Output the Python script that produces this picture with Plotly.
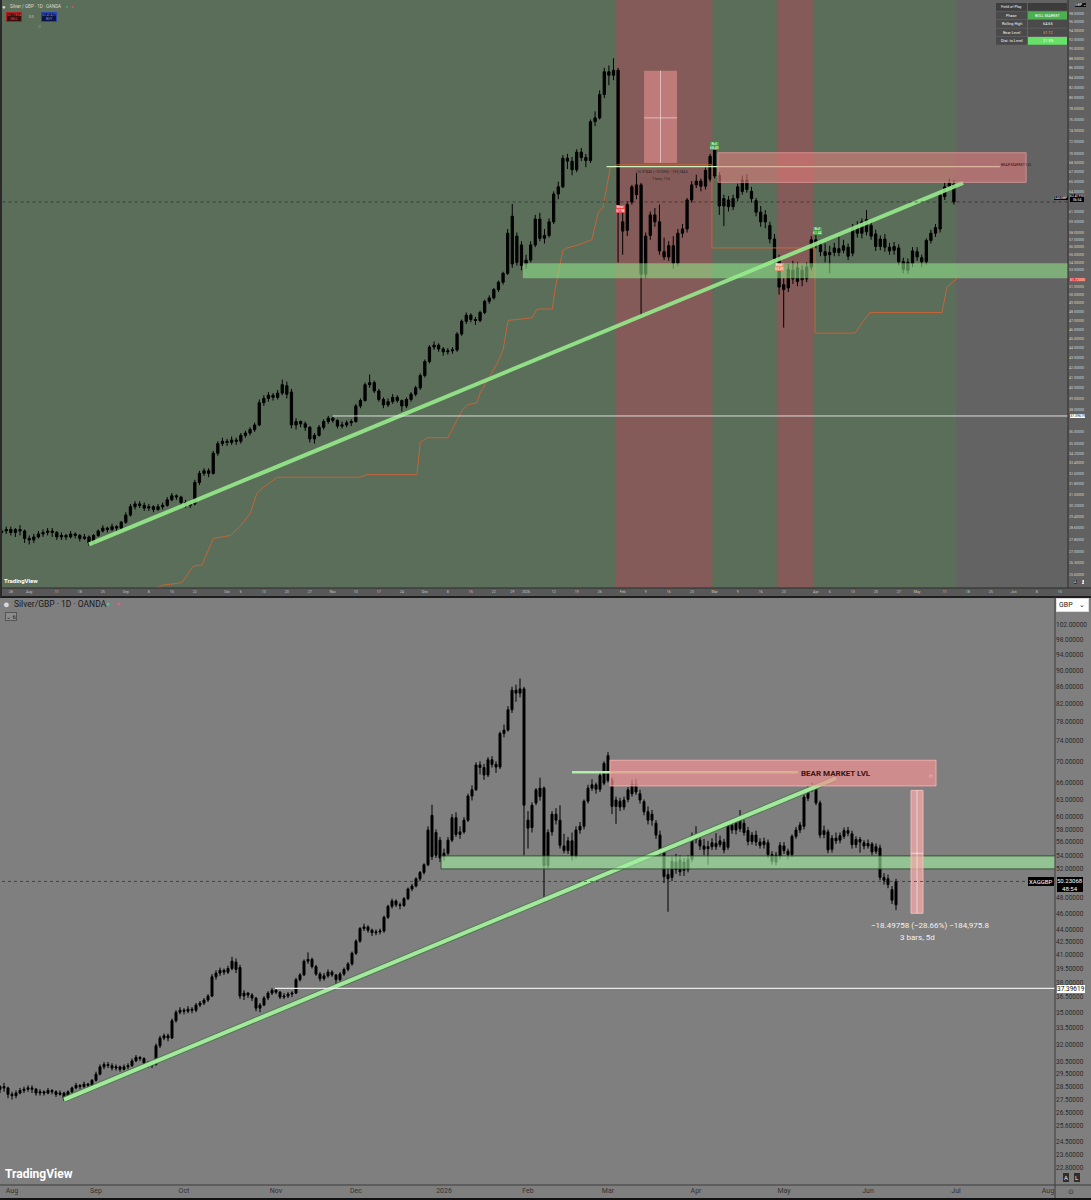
import math
import pandas as pd
import plotly.graph_objects as go

W, H = 1091, 1200

# trading calendar (OANDA daily bars, no bars on Dec 25 / Jan 1)
holidays = ["2025-12-25", "2026-01-01"]
calendar = pd.bdate_range("2025-07-24", periods=300, freq="C", holidays=holidays)

### Silver/GBP daily candles ###
opens = [28.3, 28.4, 28.5, 28.3, 28.5, 28.4, 27.9, 27.8, 28.0, 28.2, 28.3, 28.4, 28.3, 28.0, 28.1, 28.0, 28.2, 28.1, 27.9, 28.0,
         27.6, 28.1, 28.4, 28.6, 28.5, 28.7, 28.6, 29.0, 29.5, 30.1, 30.3, 30.2, 30.0, 30.1, 29.9, 30.1, 30.2, 30.6, 30.9, 30.8,
         30.4, 30.2, 30.3, 31.9, 32.6, 32.8, 32.6, 34.2, 35.0, 35.2, 35.1, 35.3, 35.2, 35.7, 35.9, 36.2, 36.6, 38.6, 39.0, 39.3,
         39.1, 39.5, 40.2, 39.6, 36.6, 36.9, 36.7, 36.4, 35.4, 35.7, 36.4, 36.9, 37.2, 37.0, 36.5, 36.6, 36.8, 36.9, 38.3, 38.8,
         40.3, 40.5, 39.7, 38.9, 38.4, 38.7, 39.1, 38.8, 38.3, 38.9, 39.4, 40.0, 41.2, 42.6, 44.1, 44.3, 43.9, 43.6, 43.7, 43.8,
         45.5, 46.9, 47.6, 47.1, 47.0, 47.9, 49.2, 49.6, 50.6, 51.5, 52.6, 60.3, 54.0, 56.3, 53.8, 54.3, 56.3, 59.9, 57.2, 57.6,
         59.5, 63.6, 64.7, 69.3, 68.8, 67.4, 70.3, 69.4, 68.9, 75.6, 76.3, 80.7, 85.2, 84.5, 85.5, 58.2, 58.3, 62.4, 63.5, 65.0,
         52.5, 57.6, 60.5, 59.5, 55.4, 54.7, 56.2, 53.9, 57.9, 58.5, 62.7, 65.0, 65.6, 64.8, 65.9, 66.4, 66.5, 61.8, 62.7, 61.7,
         63.0, 64.0, 65.7, 64.0, 62.6, 60.9, 59.5, 59.0, 57.1, 54.5, 51.2, 50.8, 53.0, 51.6, 53.0, 51.9, 53.4, 57.0, 56.3, 55.4,
         55.0, 55.3, 55.8, 55.6, 56.0, 55.2, 58.7, 57.9, 58.1, 59.0, 57.8, 56.1, 57.1, 56.0, 55.6, 55.9, 54.1, 53.0, 53.9, 55.4,
         54.6, 54.1, 56.9, 57.9, 58.5, 63.2, 64.8, 65.1, 62.4, 57.2, 57.6, 54.9, 56.6, 56.3, 56.9, 57.8, 57.3, 55.6, 56.4, 55.9,
         55.4, 55.7, 54.6, 55.1, 50.8, 50.6, 49.1, 47.1]
highs = [28.6, 28.7, 28.7, 28.6, 28.8, 28.5, 28.1, 28.2, 28.4, 28.5, 28.6, 28.6, 28.4, 28.3, 28.2, 28.4, 28.3, 28.2, 28.2, 28.1,
         28.2, 28.5, 28.8, 28.7, 28.9, 28.8, 29.1, 29.7, 30.3, 30.5, 30.5, 30.4, 30.3, 30.2, 30.3, 30.4, 30.8, 31.1, 31.0, 30.9,
         30.6, 30.5, 32.1, 32.8, 33.0, 33.0, 34.4, 35.2, 35.5, 35.4, 35.6, 35.5, 35.9, 36.1, 36.4, 36.8, 38.9, 39.3, 39.6, 39.5,
         39.8, 40.8, 40.6, 39.9, 37.2, 37.0, 36.9, 36.5, 35.9, 36.6, 37.1, 37.4, 37.3, 37.1, 36.9, 37.0, 37.1, 38.5, 39.0, 40.5,
         41.3, 40.7, 39.9, 39.1, 39.0, 39.4, 39.3, 38.9, 39.1, 39.6, 40.2, 41.4, 42.8, 44.3, 44.7, 44.5, 44.1, 44.0, 44.1, 45.7,
         47.1, 47.9, 47.8, 47.4, 48.1, 49.4, 49.9, 50.8, 51.7, 52.8, 58.5, 62.1, 58.0, 56.8, 55.0, 56.8, 60.5, 60.8, 58.5, 60.0,
         64.0, 65.5, 69.8, 70.0, 69.5, 70.8, 71.0, 70.0, 76.0, 77.5, 81.5, 86.0, 86.5, 88.0, 86.0, 61.0, 62.5, 65.0, 66.9, 65.3,
         58.0, 61.0, 61.5, 62.0, 57.3, 56.8, 57.5, 58.5, 59.2, 63.0, 65.6, 66.6, 66.0, 67.8, 70.0, 71.8, 67.0, 63.5, 63.3, 63.5,
         65.2, 66.5, 66.7, 64.7, 63.0, 61.8, 61.2, 59.5, 57.8, 55.0, 52.0, 53.8, 54.2, 54.0, 53.6, 54.0, 57.5, 58.5, 56.8, 56.5,
         56.2, 56.6, 57.4, 57.0, 56.5, 59.2, 59.6, 60.0, 61.2, 59.6, 58.4, 57.6, 57.8, 56.6, 56.7, 56.4, 54.6, 54.5, 56.0, 56.0,
         55.0, 57.2, 58.4, 59.2, 63.8, 65.4, 66.0, 65.8, 62.8, 58.6, 58.0, 57.1, 57.5, 57.5, 58.3, 58.4, 57.8, 56.9, 56.8, 56.3,
         56.4, 56.0, 55.8, 55.6, 51.4, 51.2, 49.6, 50.6]
lows = [28.1, 28.2, 28.1, 28.0, 28.1, 27.6, 27.5, 27.6, 27.9, 28.0, 28.1, 28.0, 27.8, 27.8, 27.8, 27.9, 27.9, 27.7, 27.8, 27.4,
        27.5, 28.0, 28.3, 28.3, 28.4, 28.4, 28.5, 28.9, 29.4, 29.9, 30.0, 29.8, 29.8, 29.7, 29.8, 29.9, 30.1, 30.5, 30.6, 30.2,
        30.0, 30.0, 30.2, 31.7, 32.4, 32.3, 32.5, 34.0, 34.8, 34.8, 34.9, 34.9, 35.0, 35.5, 35.7, 36.0, 36.5, 38.3, 38.7, 38.8,
        38.9, 39.3, 39.0, 36.3, 36.2, 36.4, 36.1, 35.1, 35.0, 35.6, 36.2, 36.7, 36.8, 36.3, 36.3, 36.4, 36.5, 36.8, 38.1, 38.7,
        40.0, 39.5, 38.7, 38.1, 38.2, 38.5, 38.6, 37.8, 38.1, 38.7, 39.2, 39.8, 41.0, 42.4, 43.8, 43.6, 43.2, 43.3, 43.4, 43.6,
        45.3, 46.6, 46.8, 46.5, 46.8, 47.7, 48.9, 49.4, 50.3, 51.2, 52.4, 53.3, 53.6, 53.0, 53.2, 54.0, 56.0, 56.8, 56.5, 57.3,
        59.2, 62.8, 64.5, 67.5, 66.5, 67.0, 68.8, 67.8, 68.5, 74.8, 76.0, 80.0, 82.5, 83.5, 54.0, 55.0, 57.5, 62.0, 62.8, 47.4,
        52.0, 57.0, 58.8, 55.0, 54.3, 54.2, 53.2, 53.5, 57.3, 58.0, 62.3, 64.5, 64.0, 64.3, 65.5, 66.0, 60.5, 58.9, 61.0, 61.2,
        62.5, 63.5, 63.8, 62.3, 60.3, 58.8, 58.6, 56.5, 54.0, 50.0, 46.2, 50.3, 51.3, 51.0, 51.0, 51.5, 53.0, 55.8, 54.8, 54.0,
        52.6, 54.8, 54.8, 55.2, 54.3, 54.8, 57.3, 57.2, 57.6, 57.0, 55.5, 55.6, 55.4, 55.0, 55.0, 53.6, 52.6, 52.5, 53.4, 54.2,
        53.4, 53.7, 56.5, 57.4, 58.0, 62.7, 64.3, 62.0, 56.6, 56.6, 54.3, 54.4, 55.7, 55.8, 56.5, 56.9, 55.0, 55.1, 54.4, 54.9,
        55.0, 54.0, 54.2, 50.4, 49.8, 49.3, 47.2, 46.4]
closes = [28.4, 28.5, 28.3, 28.5, 28.4, 27.9, 27.8, 28.0, 28.2, 28.3, 28.4, 28.3, 28.0, 28.1, 28.0, 28.2, 28.1, 27.9, 28.0, 27.6,
          28.1, 28.4, 28.6, 28.5, 28.7, 28.6, 29.0, 29.5, 30.1, 30.3, 30.2, 30.0, 30.1, 29.9, 30.1, 30.2, 30.6, 30.9, 30.8, 30.4,
          30.2, 30.3, 31.9, 32.6, 32.8, 32.6, 34.2, 35.0, 35.2, 35.1, 35.3, 35.2, 35.7, 35.9, 36.2, 36.6, 38.6, 39.0, 39.3, 39.1,
          39.5, 40.3, 39.4, 36.6, 36.9, 36.7, 36.4, 35.4, 35.7, 36.4, 36.9, 37.2, 37.0, 36.5, 36.6, 36.8, 36.9, 38.3, 38.8, 40.3,
          40.5, 39.7, 38.9, 38.4, 38.7, 39.1, 38.8, 38.3, 38.9, 39.4, 40.0, 41.2, 42.6, 44.1, 44.3, 43.9, 43.6, 43.7, 43.8, 45.5,
          46.9, 47.6, 47.1, 47.0, 47.9, 49.2, 49.6, 50.6, 51.5, 52.6, 57.9, 53.8, 57.5, 53.6, 54.3, 56.3, 59.9, 57.2, 57.6, 59.5,
          63.6, 64.7, 69.3, 68.8, 67.4, 70.3, 69.4, 68.9, 75.6, 76.3, 80.7, 85.2, 84.5, 85.5, 62.0, 59.5, 62.0, 64.7, 65.0, 52.5,
          57.5, 60.5, 59.5, 55.5, 54.7, 56.2, 53.9, 57.9, 58.5, 62.7, 65.0, 65.6, 64.8, 67.3, 69.6, 71.1, 61.8, 62.9, 61.7, 62.9,
          64.7, 65.7, 64.3, 62.9, 60.9, 59.5, 60.5, 57.1, 54.5, 50.9, 50.6, 53.1, 51.9, 53.3, 51.8, 53.4, 57.0, 56.4, 55.4, 54.9,
          55.3, 55.9, 55.3, 56.2, 54.8, 58.7, 57.9, 59.5, 59.8, 57.5, 56.1, 57.1, 56.0, 55.5, 56.1, 54.1, 53.1, 54.0, 55.5, 54.7,
          54.1, 56.9, 57.9, 58.7, 63.4, 64.7, 65.3, 62.4, 57.1, 57.8, 54.8, 56.6, 56.2, 57.0, 57.8, 57.4, 55.6, 56.4, 56.0, 55.4,
          55.8, 54.5, 55.3, 50.8, 50.4, 49.8, 47.7, 50.2]
dates = calendar[:len(closes)]
top_last = 207  # the upper screenshot is older and stops at this bar

### drawn levels / objects ###
support_zone = [52.0, 53.9]
bear_zone = [65.4, 70.2]
bear_line = 67.9
white_level = 37.39619
last_price = 50.23068
top_last_price = 62.4
trend_k = [19, 212]
trend_v = [27.5, 66.8]
top_trend_k = [19, 209]
top_trend_v = [27.5, 65.3]
# "bear level" line of the upper panel (bar index, price)
orange_k = [30, 35.1, 39.2, 41.6, 43.6, 46.0, 49.7, 51.8, 54.0, 55.5, 56.8, 59.0, 59.9, 77.9, 79.4, 90.3, 91.0, 92.5,
            97.0, 100.1, 101.2, 103.3, 104.0, 107.7, 109.0, 110.1, 115.3, 116.4, 119.7, 120.3, 122.0, 122.9, 125.3,
            128.3, 129.7, 130.7, 132.3, 133.8, 154.4, 154.4, 176.8, 176.8, 185.5, 187.0, 188.8, 204.4, 205.5, 207.7]
orange_v = [24.3, 24.95, 25.1, 26.1, 26.2, 27.9, 28.1, 28.7, 29.6, 31.1, 31.5, 32.1, 32.3, 32.3, 32.5, 32.5, 35.1, 35.5,
            35.5, 37.9, 38.4, 38.6, 39.5, 42.4, 43.8, 47.0, 47.3, 48.3, 48.3, 50.6, 55.6, 55.9, 56.3,
            57.0, 60.9, 61.5, 67.7, 68.2, 68.2, 55.9, 55.9, 45.6, 45.6, 46.7, 47.9, 47.9, 50.9, 52.0]
red_bands = [(133.5, 154.5), (168.5, 176.5)]
top_measure = [139.65, 146.8, 68.5, 85.4]
bottom_measure = [230.75, 233.75, 46.0, 64.6]

top_ticks = [98, 96, 94, 92, 90, 88, 86, 84, 82, 80, 78, 76, 74, 72, 70, 68.5, 67, 65.5, 64, 61, 59.5, 58, 57, 56,
             55, 54, 53, 51, 50, 49, 48, 47, 46, 45, 44, 43, 42, 41, 40, 39, 38, 36, 35, 34.2, 33.4, 32.6, 31.8, 31,
             30.2, 29.4, 28.6, 27.8, 27, 26.3, 25.6]
bottom_ticks = [102, 98, 94, 90, 86, 82, 78, 74, 70, 66, 63, 60, 58, 56, 54, 52, 48, 46, 44, 42.5, 41, 39.5, 38,
                36.5, 35, 33.5, 32, 30.5, 29.5, 28.5, 27.5, 26.5, 25.6, 24.5, 23.6, 22.8]

END = 290  # far-right bar index used to run drawings off the edge


def at(k):  # fractional bar index -> timestamp
    i = math.floor(k)
    if i < 0:
        return calendar[0] + pd.Timedelta(days=k)
    return calendar[i] + pd.Timedelta(days=k - i)


def d(k):
    return at(k).strftime("%Y-%m-%d %H:%M:%S")


fig = go.Figure()

candle_style = dict(increasing=dict(line=dict(color="#000000", width=1), fillcolor="#000000"),
                    decreasing=dict(line=dict(color="#000000", width=1), fillcolor="#000000"),
                    whiskerwidth=0, showlegend=False, hoverinfo="skip")

# upper panel
fig.add_trace(go.Scatter(x=[d(k) for k in orange_k], y=orange_v, mode="lines",
                         line=dict(color="#c4643a", width=1), xaxis="x", yaxis="y", hoverinfo="skip"))
fig.add_trace(go.Candlestick(x=dates[:top_last + 1], open=opens[:top_last + 1], high=highs[:top_last + 1],
                             low=lows[:top_last + 1], close=closes[:top_last + 1], xaxis="x", yaxis="y", **candle_style))
fig.add_trace(go.Scatter(x=[d(k) for k in top_trend_k], y=top_trend_v, mode="lines",
                         line=dict(color="rgba(150,235,140,0.9)", width=4), xaxis="x", yaxis="y", hoverinfo="skip"))
fig.add_trace(go.Scatter(x=[d(131.5), d(217)], y=[bear_line, bear_line], mode="lines",
                         line=dict(color="#c9f3c0", width=1.3), xaxis="x", yaxis="y", hoverinfo="skip"))

# lower panel
fig.add_trace(go.Candlestick(x=dates, open=opens, high=highs, low=lows, close=closes,
                             xaxis="x2", yaxis="y2", **candle_style))
fig.add_trace(go.Scatter(x=[d(k) for k in trend_k], y=trend_v, mode="lines",
                         line=dict(color="rgba(70,120,70,0.8)", width=6), xaxis="x2", yaxis="y2", hoverinfo="skip"))
fig.add_trace(go.Scatter(x=[d(k) for k in trend_k], y=trend_v, mode="lines",
                         line=dict(color="#a3e89d", width=4), xaxis="x2", yaxis="y2", hoverinfo="skip"))
fig.add_trace(go.Scatter(x=[d(146), d(202.5)], y=[bear_line, bear_line], mode="lines",
                         line=dict(color="#aef0a6", width=2.5), xaxis="x2", yaxis="y2", hoverinfo="skip"))

shapes = []


def rect(xref, yref, x0, x1, y0, y1, fill, line=None, width=0, layer="above"):
    shapes.append(dict(type="rect", xref=xref, yref=yref, x0=x0, x1=x1, y0=y0, y1=y1, fillcolor=fill,
                       line=dict(color=line or "rgba(0,0,0,0)", width=width), layer=layer))


def seg(xref, yref, x0, x1, y0, y1, color, width=1, dash="solid", layer="above"):
    shapes.append(dict(type="line", xref=xref, yref=yref, x0=x0, x1=x1, y0=y0, y1=y1,
                       line=dict(color=color, width=width, dash=dash), layer=layer))


def prect(x0, x1, y0, y1, fill, line=None, width=0, layer="above"):
    rect("paper", "paper", x0 / W, x1 / W, 1 - y1 / H, 1 - y0 / H, fill, line, width, layer)


def pline(x0, x1, y0, y1, color, width=1):
    seg("paper", "paper", x0 / W, x1 / W, 1 - y0 / H, 1 - y1 / H, color, width)


# upper panel backgrounds
rect("x", "y", d(-5), d(END), 10, 200, "#636363", layer="below")
rect("x", "y", d(-5), d(top_last + 0.5), 10, 200, "#5b6e59", layer="below")
for b0, b1 in red_bands:
    rect("x", "y", d(b0), d(b1), 10, 200, "#845b58", layer="below")
# upper panel drawings
rect("x", "y", d(113.3), d(END), support_zone[0], support_zone[1], "rgba(150,235,140,0.55)")
rect("x", "y", d(155.7), d(222.7), bear_zone[0], bear_zone[1], "rgba(235,125,125,0.55)", "rgba(240,160,160,0.7)", 1)
rect("x", "y", d(top_measure[0]), d(top_measure[1]), top_measure[2], top_measure[3], "rgba(240,150,150,0.55)")
seg("x", "y", d(sum(top_measure[:2]) / 2), d(sum(top_measure[:2]) / 2), top_measure[2], top_measure[3], "rgba(255,255,255,0.5)")
seg("x", "y", d(top_measure[0]), d(top_measure[1]), 76.3, 76.3, "rgba(255,255,255,0.5)")
seg("x", "y", d(72), d(END), white_level, white_level, "rgba(235,235,235,0.9)", 1)
seg("x", "y", d(-5), d(END), top_last_price, top_last_price, "rgba(30,30,30,0.6)", 1, "dot")

# lower panel drawings
rect("x2", "y2", d(113.25), d(END), support_zone[0], support_zone[1], "rgba(160,240,160,0.6)", "rgba(40,60,40,0.8)", 1)
rect("x2", "y2", d(155.5), d(237), bear_zone[0], bear_zone[1], "rgba(240,145,145,0.7)", "rgba(245,175,175,0.9)", 1)
rect("x2", "y2", d(bottom_measure[0]), d(bottom_measure[1]), bottom_measure[2], bottom_measure[3],
     "rgba(245,170,170,0.75)", "rgba(250,190,190,0.9)", 1)
seg("x2", "y2", d(232.25), d(232.25), bottom_measure[2], bottom_measure[3], "rgba(255,255,255,0.55)")
seg("x2", "y2", d(bottom_measure[0]), d(bottom_measure[1]), 54.3, 54.3, "rgba(255,255,255,0.6)")
seg("x2", "y2", d(71.75), d(END), white_level, white_level, "rgba(240,240,240,0.95)", 1.3)
seg("x2", "y2", d(-5), d(END), last_price, last_price, "rgba(30,30,30,0.6)", 1, "dot")

# frame, axis strips and separators
prect(1068, 1091, 0, 588, "#616161", layer="below")
prect(0, 1091, 588, 597, "#585858", layer="below")
pline(1068, 1068, 0, 588, "#2c2c2c")
pline(0, 1091, 588, 588, "#2c2c2c")
pline(0, 1091, 597, 597, "#1e1e1e", 2)
pline(1055, 1055, 597, 1200, "#3c3c3c")
pline(0, 1091, 1185, 1185, "#3c3c3c")
prect(0, 1091, 1198, 1200, "#111111")
pline(1, 1, 0, 597, "#2a2a2a", 2)

# top-right table cells
table_rows = [("Field of Play", "", "#3c3c3c", "#ffffff"),
              ("Phase", "BULL MARKET", "#4caf50", "#ffffff"),
              ("Rolling High", "64.65", "#4a4a4a", "#ffffff"),
              ("Bear Level", "51.72", "#4a4a4a", "#ff9d45"),
              ("Dist. to Level", "21.3%", "#66e066", "#ffffff")]
annotations = []


def note(x, y, text, size, color, xanchor="center", bg=None, border=None, pad=0, family="Roboto"):
    annotations.append(dict(x=x / W, y=1 - y / H, xref="paper", yref="paper", text=text, showarrow=False,
                            xanchor=xanchor, yanchor="middle", font=dict(size=size, color=color, family=family),
                            bgcolor=bg, bordercolor=border, borderwidth=1 if border else 0, borderpad=pad))


for r, (lab, val, bg, fg) in enumerate(table_rows):
    y0 = 3 + r * 8.5
    prect(996, 1027, y0, y0 + 7.8, "#3e3e3e" if r == 0 else "#4a4a4a")
    prect(1028, 1067, y0, y0 + 7.8, bg)
    note(1011.5, y0 + 3.9, lab, 3.8, "#f0f0f0")
    note(1047.5, y0 + 3.9, val, 3.8, fg)

# upper panel texts
note(4, 6, "●", 6, "#d6d6d6")
note(10, 6, "Silver / GBP · 1D · OANDA", 4.5, "#d8d8d8", "left")
note(67, 6, "●", 4, "#3dbb8a")
note(72, 6, "●", 4, "#e0507a")
note(14, 16.5, "52.17854<br>SELL", 3.4, "#ff4a4a", bg="#3a0c0c", border="#b02020")
note(31, 16.5, "0.0", 3.4, "#cccccc")
note(49, 16.5, "52.41477<br>BUY", 3.4, "#6f8cff", bg="#0c1640", border="#2444b8")
note(39, 26, "○", 5, "#cfcfcf")
note(620, 209, "Bear<br>57.98", 3.4, "#ffffff", bg="#e05050")
note(714, 146, "Bull<br>68.40", 3.4, "#ffffff", bg="#43a047")
note(817, 231, "Bull<br>61.44", 3.4, "#ffffff", bg="#43a047")
note(779, 267, "Bear<br>53.20", 3.4, "#ffffff", bg="#e0906a")
note(1001, 165, "BEAR MARKET LVL", 3.6, "#3a1212", "left")
note(661, 172, "−16.97446 (−20.05%) −169,744.6", 3.6, "#262626")
note(661, 179, "7 bars, 11d", 3.6, "#262626")
note(4, 580, "<b>TradingView</b>", 6, "#ffffff", "left")
note(1068, 198, "XAGGBP", 3.4, "#ffffff", "right", bg="#000000")
note(1070, 198, "62.41990<br>06:54", 3.4, "#ffffff", "left", bg="#000000")
note(1070, 280, "51.72000", 3.6, "#ffffff", "left", bg="#e53935")
note(1070, 416, "37.39619", 3.6, "#111111", "left", bg="#ffffff")
note(1080, 5, "GBP ⌄", 3.6, "#ffffff", bg="#111111")
note(1075, 582, "A", 3.6, "#dddddd", bg="#333333")
note(1083, 582, "L", 3.6, "#333333", bg="#eeeeee")

# lower panel texts
note(6, 604, "●", 11, "#d9d9d9")
note(14, 604, "Silver/GBP · 1D · OANDA", 8.5, "#1a1a1a", "left")
note(108, 604, "●", 7, "#44c89a")
note(118, 604, "●", 7, "#e55b8a")
note(11, 616, "⌄ 6", 6, "#222222", bg="#8c8c8c", border="#555555")
note(1072, 605, "GBP    ⌄", 7, "#222222", bg="#ffffff", border="#dddddd", pad=2)
note(801, 773, "<b>BEAR MARKET LVL</b>", 8, "#3d1515", "left")
note(931, 775, "○", 6, "#f4f4f4")
note(930, 925, "−18.49758 (−28.66%) −184,975.8", 8, "#f2f2f2")
note(917, 937, "3 bars, 5d", 8, "#f2f2f2")
note(1054, 881, "XAGGBP", 6, "#ffffff", "right", bg="#000000", pad=1)
note(1057, 884, "50.23068<br>48:54", 6, "#ffffff", "left", bg="#000000")
note(1057, 989, "37.39619", 6.5, "#111111", "left", bg="#ffffff")
note(5, 1174, "<b>TradingView</b>", 12, "#ffffff", "left")
note(1066, 1177, "A", 6, "#eeeeee", bg="#2e2e2e", pad=1)
note(1077, 1177, "L", 6, "#eeeeee", bg="#2e2e2e", pad=1)
note(1071, 1192, "⊙", 7, "#333333")

# x tick labels
months = [i for i in range(1, len(calendar)) if calendar[i].month != calendar[i - 1].month]


def month_label(i):
    return "2026" if calendar[i].month == 1 else calendar[i].strftime("%b")


bottom_xt = [i for i in months if 3 <= i <= 266]
top_xt = [i for i in months if i <= 231]
for i in range(0, 232):
    if calendar[i].weekday() == 0 and all(abs(i - m) > 2 for m in months):
        top_xt.append(i)
top_xt.sort()

rangebreaks = [dict(bounds=["sat", "mon"]), dict(values=holidays)]
common_x = dict(type="date", rangebreaks=rangebreaks, rangeslider=dict(visible=False), showgrid=False,
                zeroline=False, showline=False, ticks="", fixedrange=True)
common_y = dict(type="log", side="right", showgrid=False, zeroline=False, showline=False, ticks="", fixedrange=True)

fig.update_layout(
    width=W, height=H, margin=dict(l=0, r=0, t=0, b=0), showlegend=False,
    paper_bgcolor="#7f7f7f", plot_bgcolor="rgba(0,0,0,0)",
    xaxis=dict(domain=[0, 1068 / W], anchor="y", range=[d(-0.35), d(231.8)],
               tickvals=[calendar[i] for i in top_xt],
               ticktext=[month_label(i) if i in months else str(calendar[i].day) for i in top_xt],
               tickfont=dict(size=3.6, color="#c4c4c4", family="Roboto"), **common_x),
    yaxis=dict(domain=[1 - 588 / H, 1], anchor="x", range=[math.log10(24.78), math.log10(101.16)],
               tickvals=top_ticks, ticktext=[f"{v:.5f}" for v in top_ticks],
               tickfont=dict(size=3.6, color="#cfcfcf", family="Roboto"), **common_y),
    xaxis2=dict(domain=[0, 1055 / W], anchor="y2", range=[d(3), d(266.75)],
                tickvals=[calendar[i] for i in bottom_xt], ticktext=[month_label(i) for i in bottom_xt],
                tickfont=dict(size=7, color="#333333", family="Roboto"), **common_x),
    yaxis2=dict(domain=[1 - 1185 / H, 1 - 597 / H], anchor="x2", range=[math.log10(21.72), math.log10(110.2)],
                tickvals=bottom_ticks, ticktext=[f"{v:.5f}" for v in bottom_ticks],
                tickfont=dict(size=6.5, color="#2a2a2a", family="Roboto"), **common_y),
    shapes=shapes, annotations=annotations,
)

fig.write_html("out.html", config={"displayModeBar": False},
               post_script="document.body.style.margin='0';document.body.style.overflow='hidden';")
